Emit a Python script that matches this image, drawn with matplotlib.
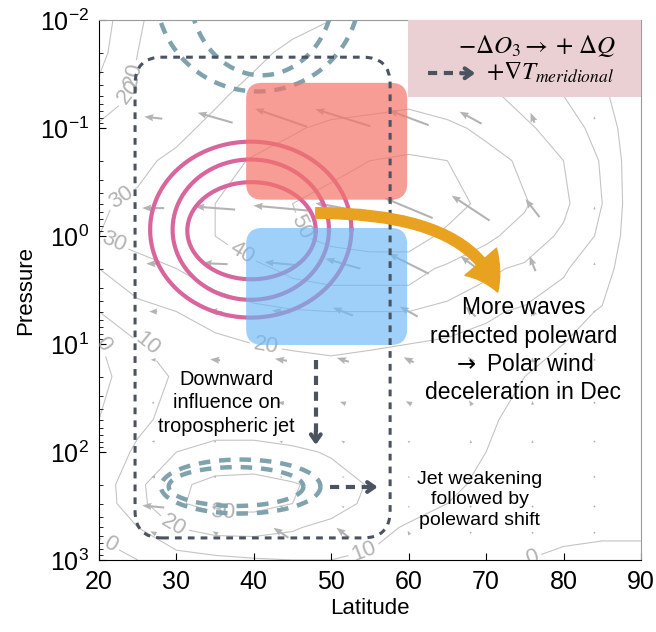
import numpy as np
import matplotlib
matplotlib.use('Agg')
import matplotlib.pyplot as plt
from matplotlib.patches import FancyBboxPatch, FancyArrowPatch, Rectangle

plt.rcParams['font.family'] = ['Liberation Sans', 'DejaVu Sans']
plt.rcParams['mathtext.fontset'] = 'custom'
plt.rcParams['mathtext.rm'] = 'Liberation Sans'
plt.rcParams['mathtext.it'] = 'Liberation Sans:italic'

# background zonal wind (m/s)
lat = [20, 25, 30, 35, 40, 45, 50, 55, 60, 65, 70, 75, 80, 85, 90]
lev = [0.01, 0.02, 0.05, 0.1, 0.2, 0.5, 1, 2, 5, 10, 20, 50, 100, 200, 300, 500, 1000]
wind = [
    [5, 19, 25, 27, 28, 29, 30, 30, 30, 28, 24, 19, 13, 7, 1],
    [7, 20, 25, 27, 29, 31, 32, 33, 33, 31, 27, 22, 16, 9, 1],
    [14, 22, 26, 29, 32, 34, 36, 37, 38, 36, 32, 27, 20, 12, 1],
    [22, 25, 28, 32, 36, 39, 42, 43, 44, 42, 38, 32, 25, 16, 1],
    [27, 28, 32, 36, 41, 45, 48, 50, 52, 50, 44, 38, 30, 19, 1],
    [29, 32, 35, 40, 45, 50, 53, 56, 58, 53, 48, 41, 32, 20, 1],
    [30, 33, 36, 40, 44, 49, 52, 54, 54, 48, 42, 36, 28, 18, 1],
    [20, 26, 30, 34, 38, 42, 44, 44, 44, 38, 32, 28, 21, 14, 1],
    [10, 16, 20, 24, 27, 29, 30, 30, 30, 26, 22, 18, 14, 9, 1],
    [-1, 9, 13, 17, 20, 21, 22, 21, 20, 18, 15, 12, 10, 6, 1],
    [-3, 6, 11, 13, 14, 14.5, 15, 14, 13, 12, 11, 10, 7, 4, 1],
    [0, 8, 13, 15, 15, 14, 12, 12, 12, 11, 10.5, 9, 6, 3, 1],
    [2, 12, 20, 24, 24, 22, 19, 16, 13, 11, 10, 8, 5, 3, 1],
    [4, 18, 28, 33, 34, 31, 26, 19, 14, 11, 9, 7, 4, 2, 1],
    [4, 17, 29, 33, 33, 30, 24, 18, 13, 10, 7, 5, 3, 1, 1],
    [1, 10, 20, 23, 23, 21, 17, 13, 9, 6, 4, 2, 1, 0.5, 0.5],
    [-3, 0, 4, 7, 9, 10, 10, 8, 5, 3, 1, 0, -1, -1, -1],
]
wind_levels = [0, 10, 20, 30, 40, 50]

# flux arrows (screen components, pixels)
q_lat = [27, 35, 43.5, 51.5, 60, 68, 76, 84]
q_lev = [0.08, 0.55, 1.8, 5, 14, 35, 80, 170, 320, 560]
q_u = [
    [-18, -35, -52, -55, -40, -22, -4, 0],
    [-22, -40, -55, -55, -48, -38, -14, 0],
    [-14, -25, -33, -35, -40, -20, -6, 0],
    [-8, -14, -18, -20, -18, -10, -3, 0],
    [-5, -10, -12, -12, -10, -5, -1, 0],
    [-2, -4, -6, -6, -6, -3, 0, 0],
    [-3, -2, -3, -3, -2, -1, 0, 0],
    [-4, -2, -2, -2, -1, 0, 0, 0],
    [-22, 4, -3, -2, -1, 0, 0, 0],
    [-6, -5, -15, -13, -2, 0, 0, 0],
]
q_v = [
    [2, 10, 18, 17, 15, 12, 10, 3],
    [0, 3, 5, 10, 20, 25, 18, 3],
    [0, 1, 3, 10, 20, 15, 15, 3],
    [0, 1, 2, 8, 10, 10, 8, 2],
    [0, 1, 2, 4, 5, 6, 5, 2],
    [0, 0, 1, 2, 3, 5, 4, 2],
    [0, 0, 1, 2, 2, 3, 3, 2],
    [0, 0, 1, 1, 2, 3, 2, 2],
    [2, 4, 2, 2, 2, 2, 2, 2],
    [3, 3, 10, 10, 4, 2, 2, 1],
]

# where the contour labels sit (lat, hPa)
label_spots = [(22.5, 0.03), (25.5, 0.035), (23, 0.45), (21.5, 1.3), (38, 1.6),
               (47.5, 0.75), (41.5, 11), (26.5, 9), (20.5, 10), (36, 270),
               (30.5, 400), (21.5, 700), (54.5, 950), (76, 1000)]

fig = plt.figure(figsize=(6.56, 6.32), dpi=100)
ax = fig.add_axes([0.151, 0.114, 0.826, 0.854])
ax.set_yscale('log')
ax.set_xlim(20, 90)
ax.set_ylim(1000, 0.01)

cs = ax.contour(lat, lev, wind, levels=wind_levels, colors='#c4c4c4', linewidths=0.8, zorder=1)
ax.clabel(cs, fmt='%d', fontsize=16, colors='#b3b3b3', manual=label_spots, inline=True, inline_spacing=4)

QX, QY = np.meshgrid(q_lat, q_lev)
ax.quiver(QX, QY, q_u, q_v, angles='uv', scale_units='dots', scale=1, pivot='middle',
          color='#b3b3b3', width=0.0038, headwidth=3.5, headlength=4.5, headaxislength=4, zorder=2)


def ring(c_lat, c_lp, a, b, **kw):
    t = np.linspace(0, 2 * np.pi, 300)
    ax.plot(c_lat + a * np.cos(t), 10 ** (c_lp + b * np.sin(t)), **kw)


teal = dict(color='#7fa2ac', lw=3.2, dashes=(2.6, 2.0), zorder=3, solid_capstyle='butt')
ring(40.5, -2.28, 13.2, 0.94, **teal)
ring(41.0, -2.28, 9.3, 0.79, **teal)
ring(38.3, 2.32, 10.3, 0.25, **teal)
ring(37.7, 2.32, 8.7, 0.18, **teal)

pink = dict(color='#d9659d', lw=3.0, zorder=4)
ring(39.6, -0.06, 13.0, 0.815, **pink)
ring(39.6, -0.06, 10.1, 0.65, **pink)
ring(39.7, -0.05, 8.3, 0.45, **pink)


def to_axes(x, y):
    return ax.transAxes.inverted().transform(ax.transData.transform((x, y)))


def rbox(lat0, lat1, p0, p1, rs, **kw):
    x0, y0 = to_axes(lat0, p1)
    x1, y1 = to_axes(lat1, p0)
    patch = FancyBboxPatch((x0, y0), x1 - x0, y1 - y0,
                           boxstyle='round,pad=0,rounding_size=%f' % rs,
                           transform=ax.transAxes, **kw)
    ax.add_patch(patch)


rbox(39.0, 59.8, 0.038, 0.46, 0.03, facecolor='#f4746a', edgecolor='none', alpha=0.7, zorder=5)
rbox(39.0, 59.8, 0.84, 10.2, 0.03, facecolor='#6cb8f6', edgecolor='none', alpha=0.65, zorder=5)
rbox(24.65, 57.6, 0.022, 625, 0.05, facecolor='none', edgecolor='#4b5260', lw=2.2,
     linestyle=(0, (2.2, 2.0)), zorder=6)

# legend box
lx0, ly0 = to_axes(59.9, 0.0516)
ax.add_patch(Rectangle((lx0, ly0), 1 - lx0, 1 - ly0, transform=ax.transAxes,
                       facecolor='#ebd0d3', edgecolor='none', zorder=5))
ax.text(86.8, 0.0174, r'$-\Delta O_3 \rightarrow +\,\Delta Q$', fontsize=18, ha='right', va='center',
        math_fontfamily='stix', zorder=8)
ax.text(70.0, 0.031, r'$+\nabla T_{meridional}$', fontsize=18, ha='left', va='center',
        math_fontfamily='stix', zorder=8)


def dash_arrow(x0, y0, x1, y1, xs, ys):
    ax.plot([x0, xs], [y0, ys], color='#4b5260', lw=3.0, dashes=(2.2, 1.6), zorder=7)
    ax.annotate('', xy=(x1, y1), xytext=(xs, ys),
                arrowprops=dict(arrowstyle='->,head_length=0.5,head_width=0.35', color='#4b5260',
                                lw=3.0, shrinkA=0, shrinkB=0), zorder=7)


dash_arrow(62.5, 0.031, 68.6, 0.031, 66.8, 0.031)
dash_arrow(48.0, 14, 48.0, 86, 48.0, 65)
dash_arrow(49.8, 211, 56.0, 211, 54.3, 211)

ax.add_patch(FancyArrowPatch((48.0, 0.61), (71.5, 3.3),
                             connectionstyle='angle3,angleA=0,angleB=-72',
                             arrowstyle='simple,head_length=1.25,head_width=1.5,tail_width=0.38',
                             mutation_scale=20, color='#e9a21f', shrinkA=0, shrinkB=0, zorder=7))

ax.text(36.5, 35, 'Downward\ninfluence on\ntropospheric jet', fontsize=14.3, ha='center', va='center',
        linespacing=1.3, zorder=8)
ax.text(69.2, 278, 'Jet weakening\nfollowed by\npoleward shift', fontsize=14, ha='center', va='center',
        linespacing=1.3, zorder=8)
ax.text(74.8, 11.4, 'More waves\nreflected poleward\n' + r'$\rightarrow$' + ' Polar wind\ndeceleration in Dec',
        fontsize=16.5, ha='center', va='center', linespacing=1.3, math_fontfamily='dejavusans', zorder=8)

ax.set_xticks([20, 30, 40, 50, 60, 70, 80, 90])
ax.set_yticks([1e-2, 1e-1, 1, 10, 100, 1000])
ax.tick_params(axis='both', which='major', direction='in', labelsize=18, length=5, pad=7)
ax.tick_params(axis='y', which='minor', direction='in', length=3)
ax.set_xlabel('Latitude', fontsize=16, labelpad=3)
ax.set_ylabel('Pressure', fontsize=16, labelpad=3)
for s in ['top', 'right']:
    ax.spines[s].set_color('#9a9a9a')

fig.savefig('out.png', dpi=100)
